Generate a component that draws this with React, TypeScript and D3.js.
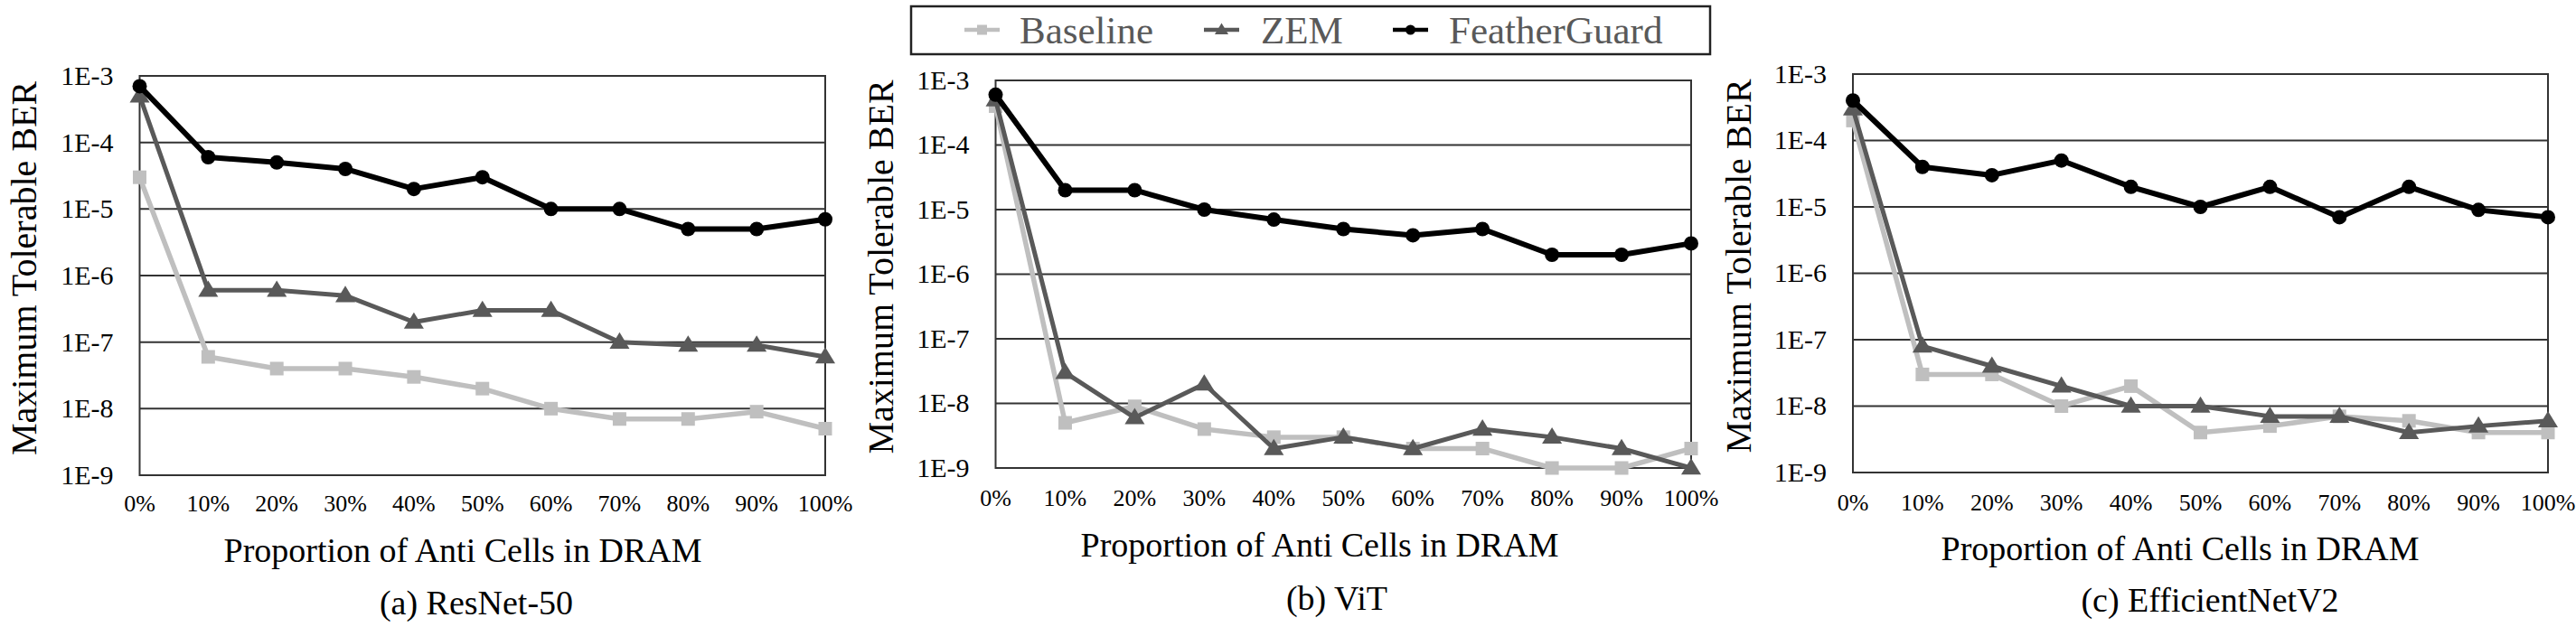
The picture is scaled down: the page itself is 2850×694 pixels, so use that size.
import React from "react";
import * as d3 from "d3";

const WIDTH = 2850;
const HEIGHT = 694;
const FONT = "'Liberation Serif', 'Times New Roman', serif";

const proportions = ["0%", "10%", "20%", "30%", "40%", "50%", "60%", "70%", "80%", "90%", "100%"];
const yTicks = [1e-3, 1e-4, 1e-5, 1e-6, 1e-7, 1e-8, 1e-9];
const yTickLabels = ["1E-3", "1E-4", "1E-5", "1E-6", "1E-7", "1E-8", "1E-9"];
const seriesNames = ["Baseline", "ZEM", "FeatherGuard"];
const panelTitles = ["(a) ResNet-50", "(b) ViT", "(c) EfficientNetV2"];

// ResNet-50
const resnetBaseline = [3e-5, 6e-8, 4e-8, 4e-8, 3e-8, 2e-8, 1e-8, 7e-9, 7e-9, 9e-9, 5e-9];
const resnetZem = [5e-4, 6e-7, 6e-7, 5e-7, 2e-7, 3e-7, 3e-7, 1e-7, 9e-8, 9e-8, 6e-8];
const resnetFeather = [7e-4, 6e-5, 5e-5, 4e-5, 2e-5, 3e-5, 1e-5, 1e-5, 5e-6, 5e-6, 7e-6];

// ViT
const vitBaseline = [4e-4, 5e-9, 9e-9, 4e-9, 3e-9, 3e-9, 2e-9, 2e-9, 1e-9, 1e-9, 2e-9];
const vitZem = [5e-4, 3e-8, 6e-9, 2e-8, 2e-9, 3e-9, 2e-9, 4e-9, 3e-9, 2e-9, 1e-9];
const vitFeather = [6e-4, 2e-5, 2e-5, 1e-5, 7e-6, 5e-6, 4e-6, 5e-6, 2e-6, 2e-6, 3e-6];

// EfficientNetV2
const effBaseline = [2e-4, 3e-8, 3e-8, 1e-8, 2e-8, 4e-9, 5e-9, 7e-9, 6e-9, 4e-9, 4e-9];
const effZem = [3e-4, 8e-8, 4e-8, 2e-8, 1e-8, 1e-8, 7e-9, 7e-9, 4e-9, 5e-9, 6e-9];
const effFeather = [4e-4, 4e-5, 3e-5, 5e-5, 2e-5, 1e-5, 2e-5, 7e-6, 2e-5, 9e-6, 7e-6];

const panelData = [
  [resnetBaseline, resnetZem, resnetFeather],
  [vitBaseline, vitZem, vitFeather],
  [effBaseline, effZem, effFeather],
];

const COLORS = ["#bfbfbf", "#595959", "#000000"];
const LINE_W = [5.5, 5, 6];

// layout of each panel (pixels)
const layouts = [
  { left: 154.5, right: 913, top: 84, bottom: 526, yTitleX: 27, tickY: 566, titleX: 512, titleY: 622, subX: 527, subY: 680 },
  { left: 1101.5, right: 1871, top: 89, bottom: 518, yTitleX: 975, tickY: 560, titleX: 1460, titleY: 616, subX: 1479, subY: 675 },
  { left: 2050, right: 2819, top: 82, bottom: 523, yTitleX: 1924, tickY: 565, titleX: 2412, titleY: 620, subX: 2445, subY: 677 },
];

function Marker({ kind, x, y, s }: { kind: number; x: number; y: number; s: number }) {
  if (kind === 0) {
    return <rect x={x - s / 2} y={y - s / 2} width={s} height={s} fill={COLORS[0]} />;
  }
  if (kind === 1) {
    const h = s * 0.95;
    return (
      <path
        d={`M${x},${y - h * 0.6} L${x + s * 0.58},${y + h * 0.4} L${x - s * 0.58},${y + h * 0.4} Z`}
        fill={COLORS[1]}
      />
    );
  }
  return <circle cx={x} cy={y} r={s / 2} fill={COLORS[2]} />;
}

function Panel({ idx }: { idx: number }) {
  const L = layouts[idx];
  const x = d3.scalePoint<string>().domain(proportions).range([L.left, L.right]);
  const y = d3.scaleLog().domain([1e-9, 1e-3]).range([L.bottom, L.top]);
  const line = d3
    .line<number>()
    .x((_, i) => x(proportions[i]) as number)
    .y((d) => y(d));
  const series = panelData[idx];
  const sizes = [15, 19, 16];

  return (
    <g>
      {yTicks.map((t, i) => (
        <g key={i}>
          <line x1={L.left} x2={L.right} y1={y(t)} y2={y(t)} stroke="#333" strokeWidth={2} />
          <text
            x={L.left - 29}
            y={y(t)}
            dy="0.33em"
            textAnchor="end"
            fontSize={30}
            fontFamily={FONT}
            fill="#000"
          >
            {yTickLabels[i]}
          </text>
        </g>
      ))}
      <rect
        x={L.left}
        y={L.top}
        width={L.right - L.left}
        height={L.bottom - L.top}
        fill="none"
        stroke="#333"
        strokeWidth={2}
      />
      {proportions.map((p) => (
        <text
          key={p}
          x={x(p)}
          y={L.tickY}
          textAnchor="middle"
          fontSize={26}
          fontFamily={FONT}
          fill="#000"
        >
          {p}
        </text>
      ))}
      {series.map((vals, si) => (
        <g key={si}>
          <path d={line(vals) || ""} fill="none" stroke={COLORS[si]} strokeWidth={LINE_W[si]} strokeLinejoin="round" />
          {vals.map((v, i) => (
            <Marker key={i} kind={si} x={x(proportions[i]) as number} y={y(v)} s={sizes[si]} />
          ))}
        </g>
      ))}
      <text
        transform={`translate(${L.yTitleX},${(L.top + L.bottom) / 2 - 8}) rotate(-90)`}
        dy="0.33em"
        textAnchor="middle"
        fontSize={40}
        fontFamily={FONT}
        fill="#000"
      >
        Maximum Tolerable BER
      </text>
      <text x={L.titleX} y={L.titleY} textAnchor="middle" fontSize={38} fontFamily={FONT} fill="#000">
        Proportion of Anti Cells in DRAM
      </text>
      <text x={L.subX} y={L.subY} textAnchor="middle" fontSize={38} fontFamily={FONT} fill="#000">
        {panelTitles[idx]}
      </text>
    </g>
  );
}

function Legend() {
  const items = [
    { lx: 1067, tx: 1128 },
    { lx: 1332, tx: 1395 },
    { lx: 1541, tx: 1603 },
  ];
  const cy = 33;
  return (
    <g>
      <rect x={1008} y={7} width={884} height={53} fill="#fff" stroke="#222" strokeWidth={2.5} />
      {seriesNames.map((name, i) => (
        <g key={name}>
          <line x1={items[i].lx} x2={items[i].lx + 39} y1={cy} y2={cy} stroke={COLORS[i]} strokeWidth={4.5} />
          <Marker kind={i} x={items[i].lx + 19.5} y={cy} s={i === 1 ? 13 : 11} />
          <text x={items[i].tx} y={cy} dy="0.34em" fontSize={43} fontFamily={FONT} fill="#595959">
            {name}
          </text>
        </g>
      ))}
    </g>
  );
}

export default function App() {
  return (
    <svg
      width={WIDTH}
      height={HEIGHT}
      viewBox={`0 0 ${WIDTH} ${HEIGHT}`}
      style={{ position: "absolute", left: 0, top: 0, background: "#fff" }}
    >
      <rect width={WIDTH} height={HEIGHT} fill="#fff" />
      {[0, 1, 2].map((i) => (
        <Panel key={i} idx={i} />
      ))}
      <Legend />
    </svg>
  );
}
